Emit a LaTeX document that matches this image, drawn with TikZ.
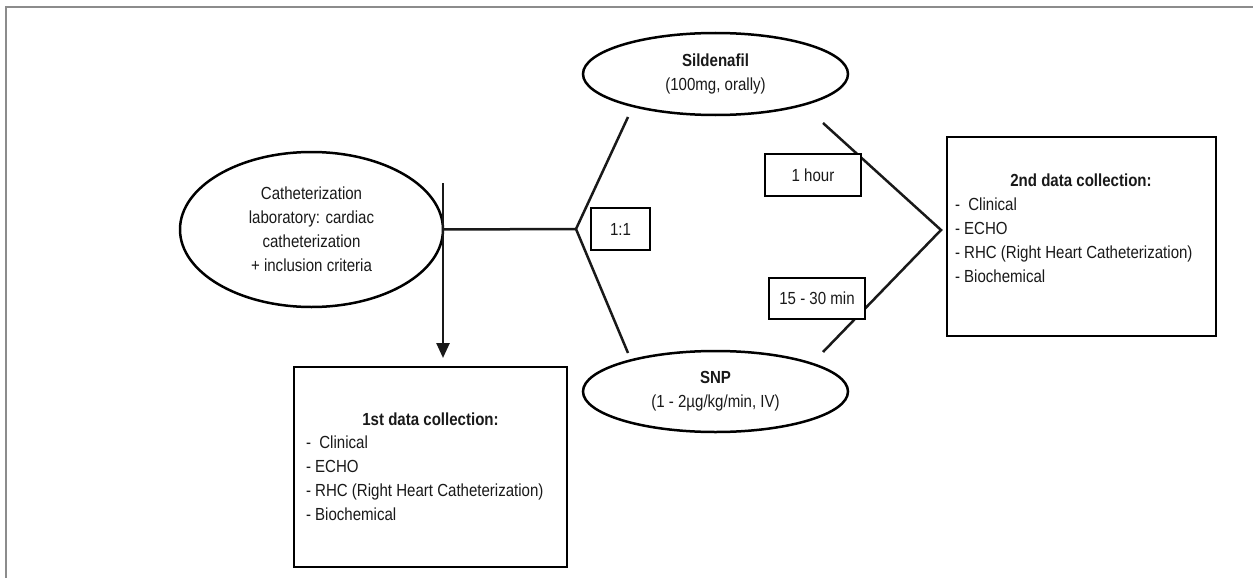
\documentclass[tikz,border=0pt]{standalone}
\usepackage{fontspec}
\setmainfont[FakeStretch=0.86]{Liberation Sans}
\usetikzlibrary{shapes.geometric,arrows.meta}
\begin{document}
\begin{tikzpicture}[x=1pt,y=-1pt,
  every node/.style={font=\fontsize{17.5}{24}\selectfont, inner sep=0pt, outer sep=0pt, text=black!90},
  oval/.style={ellipse, draw, line width=2.5pt, align=center, fill=white},
  tbox/.style={rectangle, draw, line width=2.5pt, fill=white},
  conn/.style={line width=2.5pt, draw=black!90},
  frameline/.style={draw=black!45, line width=2pt},
  ttl/.style={anchor=mid, font=\bfseries\fontsize{17.5}{24}\selectfont},
  item/.style={anchor=mid west}]
\useasboundingbox (0,0) rectangle (1253,578);
% frame
\coordinate (fbl) at (6,578);
\coordinate (ftl) at (6,7);
\coordinate (ftr) at (1253,7);
\draw[frameline] (fbl) -- (ftl) -- (ftr);

% ovals
\node[oval, minimum width=263, minimum height=155] (cath) at (311.5,229.5)
  {Catheterization\\laboratory: cardiac\\catheterization\\+ inclusion criteria};
\node[oval, minimum width=265, minimum height=82] (sil) at (715.5,74)
  {\textbf{Sildenafil}\\(100mg, orally)};
\node[oval, minimum width=265, minimum height=81] (snp) at (715.5,391.5)
  {\textbf{SNP}\\(1 - 2µg/kg/min, IV)};

% connector points
\coordinate (vtop) at (443,183);
\coordinate (vtip) at (443,358);
\coordinate (j1) at (576,229);
\coordinate (silL) at (628,117);
\coordinate (snpL) at (628,353);
\coordinate (silR) at (823,123);
\coordinate (snpR) at (823,352);
\coordinate (j2) at (941,230);

\draw[conn, -{Triangle[length=15pt,width=13pt]}] (vtop) -- (vtip);
\draw[conn] (cath.east) -- (j1);
\draw[conn] (silL) -- (j1) -- (snpL);
\draw[conn] (silR) -- (j2) -- (snpR);

% label boxes
\node[tbox, minimum width=59, minimum height=42] (ratio) at (620.5,229) {1:1};
\node[tbox, minimum width=96, minimum height=42] (hour) at (813,175) {1 hour};
\node[tbox, minimum width=96, minimum height=41] (mins) at (817,298.5) {15 - 30 min};

% data boxes
\node[tbox, minimum width=273, minimum height=200] (box1) at (430.5,467) {};
\node[ttl] (b1t) at (430.5,423) {1st data collection:};
\node[item] (b1a) at (306,446) {-\ \ Clinical};
\node[item] (b1b) at (306,470) {- ECHO};
\node[item] (b1c) at (306,494) {- RHC (Right Heart Catheterization)};
\node[item] (b1d) at (306,518) {- Biochemical};

\node[tbox, minimum width=269, minimum height=199] (box2) at (1081.5,236.5) {};
\node[ttl] (b2t) at (1081,184) {2nd data collection:};
\node[item] (b2a) at (955,208) {-\ \ Clinical};
\node[item] (b2b) at (955,232) {- ECHO};
\node[item] (b2c) at (955,256) {- RHC (Right Heart Catheterization)};
\node[item] (b2d) at (955,280) {- Biochemical};
\end{tikzpicture}
\end{document}
